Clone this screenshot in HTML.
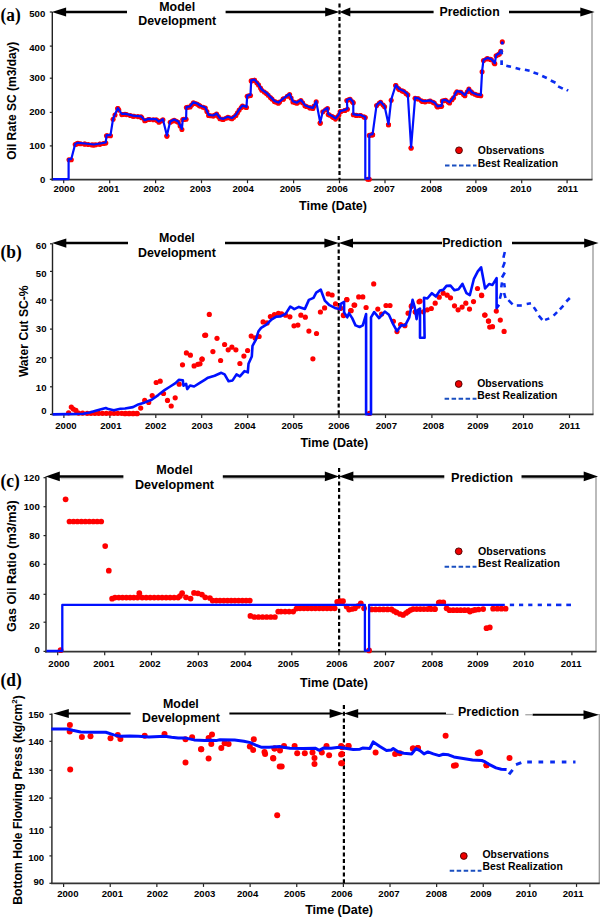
<!DOCTYPE html>
<html><head><meta charset="utf-8"><style>
html,body{margin:0;padding:0;background:#fff;overflow:hidden;}
svg{display:block;}
</style></head><body>
<svg width="602" height="920" viewBox="0 0 602 920">
<rect width="602" height="920" fill="#fff"/>
<text x="0.6" y="21" font-family='"Liberation Serif", serif' font-size="18.5" font-weight="bold" text-anchor="start" fill="#000" textLength="20.2" lengthAdjust="spacingAndGlyphs">(a)</text>
<text transform="translate(16.3,100.7) rotate(-90) scale(1,1)" font-family='"Liberation Sans", sans-serif' font-size="12" font-weight="bold" text-anchor="middle">Oil Rate SC (m3/day)</text>
<line x1="49.8" y1="179.3" x2="52.3" y2="179.3" stroke="#222" stroke-width="1.2" />
<text x="45.3" y="183.0" font-family='"Liberation Sans", sans-serif' font-size="9.6" font-weight="bold" text-anchor="end" fill="#000" >0</text>
<line x1="49.8" y1="145.9" x2="52.3" y2="145.9" stroke="#222" stroke-width="1.2" />
<text x="45.3" y="149.4" font-family='"Liberation Sans", sans-serif' font-size="9.6" font-weight="bold" text-anchor="end" fill="#000" >100</text>
<line x1="49.8" y1="112.4" x2="52.3" y2="112.4" stroke="#222" stroke-width="1.2" />
<text x="45.3" y="115.30000000000001" font-family='"Liberation Sans", sans-serif' font-size="9.6" font-weight="bold" text-anchor="end" fill="#000" >200</text>
<line x1="49.8" y1="78.2" x2="52.3" y2="78.2" stroke="#222" stroke-width="1.2" />
<text x="45.3" y="80.80000000000001" font-family='"Liberation Sans", sans-serif' font-size="9.6" font-weight="bold" text-anchor="end" fill="#000" >300</text>
<line x1="49.8" y1="46.1" x2="52.3" y2="46.1" stroke="#222" stroke-width="1.2" />
<text x="45.3" y="51.199999999999996" font-family='"Liberation Sans", sans-serif' font-size="9.6" font-weight="bold" text-anchor="end" fill="#000" >400</text>
<line x1="49.8" y1="12" x2="52.3" y2="12" stroke="#222" stroke-width="1.2" />
<text x="45.3" y="17.2" font-family='"Liberation Sans", sans-serif' font-size="9.6" font-weight="bold" text-anchor="end" fill="#000" >500</text>
<line x1="63.7" y1="179.6" x2="63.7" y2="183.2" stroke="#222" stroke-width="1.2" />
<text x="64.1" y="191.9" font-family='"Liberation Sans", sans-serif' font-size="9.6" font-weight="bold" text-anchor="middle" fill="#000" >2000</text>
<line x1="109.7" y1="179.6" x2="109.7" y2="183.2" stroke="#222" stroke-width="1.2" />
<text x="108.6" y="191.9" font-family='"Liberation Sans", sans-serif' font-size="9.6" font-weight="bold" text-anchor="middle" fill="#000" >2001</text>
<line x1="155.6" y1="179.6" x2="155.6" y2="183.2" stroke="#222" stroke-width="1.2" />
<text x="153.8" y="191.9" font-family='"Liberation Sans", sans-serif' font-size="9.6" font-weight="bold" text-anchor="middle" fill="#000" >2002</text>
<line x1="201.5" y1="179.6" x2="201.5" y2="183.2" stroke="#222" stroke-width="1.2" />
<text x="200.5" y="191.9" font-family='"Liberation Sans", sans-serif' font-size="9.6" font-weight="bold" text-anchor="middle" fill="#000" >2003</text>
<line x1="247.5" y1="179.6" x2="247.5" y2="183.2" stroke="#222" stroke-width="1.2" />
<text x="243.1" y="191.9" font-family='"Liberation Sans", sans-serif' font-size="9.6" font-weight="bold" text-anchor="middle" fill="#000" >2004</text>
<line x1="293.6" y1="179.6" x2="293.6" y2="183.2" stroke="#222" stroke-width="1.2" />
<text x="290.3" y="191.9" font-family='"Liberation Sans", sans-serif' font-size="9.6" font-weight="bold" text-anchor="middle" fill="#000" >2005</text>
<line x1="339.5" y1="179.6" x2="339.5" y2="183.2" stroke="#222" stroke-width="1.2" />
<text x="337.2" y="191.9" font-family='"Liberation Sans", sans-serif' font-size="9.6" font-weight="bold" text-anchor="middle" fill="#000" >2006</text>
<line x1="385" y1="179.6" x2="385" y2="183.2" stroke="#222" stroke-width="1.2" />
<text x="384.2" y="191.9" font-family='"Liberation Sans", sans-serif' font-size="9.6" font-weight="bold" text-anchor="middle" fill="#000" >2007</text>
<line x1="430.5" y1="179.6" x2="430.5" y2="183.2" stroke="#222" stroke-width="1.2" />
<text x="431.5" y="191.9" font-family='"Liberation Sans", sans-serif' font-size="9.6" font-weight="bold" text-anchor="middle" fill="#000" >2008</text>
<line x1="475.9" y1="179.6" x2="475.9" y2="183.2" stroke="#222" stroke-width="1.2" />
<text x="476.6" y="191.9" font-family='"Liberation Sans", sans-serif' font-size="9.6" font-weight="bold" text-anchor="middle" fill="#000" >2009</text>
<line x1="521.7" y1="179.6" x2="521.7" y2="183.2" stroke="#222" stroke-width="1.2" />
<text x="520.8" y="191.9" font-family='"Liberation Sans", sans-serif' font-size="9.6" font-weight="bold" text-anchor="middle" fill="#000" >2010</text>
<line x1="567.1" y1="179.6" x2="567.1" y2="183.2" stroke="#222" stroke-width="1.2" />
<text x="567.6" y="191.9" font-family='"Liberation Sans", sans-serif' font-size="9.6" font-weight="bold" text-anchor="middle" fill="#000" >2011</text>
<line x1="592" y1="12.5" x2="592" y2="179.6" stroke="#939393" stroke-width="1.25" />
<line x1="52.3" y1="12" x2="52.3" y2="180.4" stroke="#222" stroke-width="1.4" />
<line x1="51.3" y1="179.6" x2="592.5" y2="179.6" stroke="#333" stroke-width="1.8" />
<line x1="339.5" y1="3.5" x2="339.5" y2="179.6" stroke="#000" stroke-width="2.2" stroke-dasharray="4,2.7"/>
<line x1="61.8" y1="12" x2="127" y2="12" stroke="#000" stroke-width="2.5" />
<polygon points="51.8,12 66.1,7.5 66.1,16.5" fill="#000"/>
<line x1="225.6" y1="12" x2="331.5" y2="12" stroke="#000" stroke-width="2.5" />
<polygon points="339.5,12 325.2,7.5 325.2,16.5" fill="#000"/>
<line x1="347.5" y1="12" x2="433.6" y2="12" stroke="#000" stroke-width="2.5" />
<polygon points="339.5,12 350.3,7.5 350.3,16.5" fill="#000"/>
<line x1="509" y1="12" x2="586.6" y2="12" stroke="#000" stroke-width="2.5" />
<polygon points="594.6,12 580.3000000000001,7.5 580.3000000000001,16.5" fill="#000"/>
<text x="177.2" y="10.8" font-family='"Liberation Sans", sans-serif' font-size="12.4" font-weight="bold" text-anchor="middle" fill="#000" >Model</text>
<text x="177.2" y="25.3" font-family='"Liberation Sans", sans-serif' font-size="12.4" font-weight="bold" text-anchor="middle" fill="#000" >Development</text>
<text x="469.6" y="16.4" font-family='"Liberation Sans", sans-serif' font-size="12.3" font-weight="bold" text-anchor="middle" fill="#000" >Prediction</text>
<text x="333" y="209.6" font-family='"Liberation Sans", sans-serif' font-size="12.5" font-weight="bold" text-anchor="middle" fill="#000" >Time (Date)</text>
<circle cx="459" cy="150.3" r="3.4" fill="#e00" stroke="#400" stroke-width="0.9"/>
<text x="477.8" y="154" font-family='"Liberation Sans", sans-serif' font-size="10.4" font-weight="bold" text-anchor="start" fill="#000" >Observations</text>
<text x="477.8" y="166.6" font-family='"Liberation Sans", sans-serif' font-size="10.4" font-weight="bold" text-anchor="start" fill="#000" >Best Realization</text>
<line x1="445" y1="165.4" x2="476.5" y2="165.4" stroke="#1a4fc0" stroke-width="2" stroke-dasharray="4.5,2.5"/>
<circle cx="69.0" cy="159.7" r="2.55" fill="#f00"/>
<circle cx="76.7" cy="143.9" r="2.55" fill="#f00"/>
<circle cx="80.5" cy="143.7" r="2.55" fill="#f00"/>
<circle cx="84.3" cy="144.0" r="2.55" fill="#f00"/>
<circle cx="88.2" cy="144.5" r="2.55" fill="#f00"/>
<circle cx="92.0" cy="144.9" r="2.55" fill="#f00"/>
<circle cx="95.8" cy="144.8" r="2.55" fill="#f00"/>
<circle cx="99.6" cy="144.2" r="2.55" fill="#f00"/>
<circle cx="103.5" cy="143.5" r="2.55" fill="#f00"/>
<circle cx="107.3" cy="135.8" r="2.55" fill="#f00"/>
<circle cx="115.0" cy="115.0" r="2.55" fill="#f00"/>
<circle cx="118.8" cy="110.1" r="2.55" fill="#f00"/>
<circle cx="122.6" cy="114.5" r="2.55" fill="#f00"/>
<circle cx="126.5" cy="114.6" r="2.55" fill="#f00"/>
<circle cx="130.3" cy="115.5" r="2.55" fill="#f00"/>
<circle cx="134.1" cy="116.3" r="2.55" fill="#f00"/>
<circle cx="137.9" cy="116.6" r="2.55" fill="#f00"/>
<circle cx="141.8" cy="117.7" r="2.55" fill="#f00"/>
<circle cx="145.6" cy="120.5" r="2.55" fill="#f00"/>
<circle cx="149.4" cy="119.5" r="2.55" fill="#f00"/>
<circle cx="153.3" cy="119.7" r="2.55" fill="#f00"/>
<circle cx="157.1" cy="120.6" r="2.55" fill="#f00"/>
<circle cx="160.9" cy="121.0" r="2.55" fill="#f00"/>
<circle cx="172.4" cy="121.1" r="2.55" fill="#f00"/>
<circle cx="176.2" cy="121.2" r="2.55" fill="#f00"/>
<circle cx="180.1" cy="125.9" r="2.55" fill="#f00"/>
<circle cx="183.9" cy="119.4" r="2.55" fill="#f00"/>
<circle cx="187.7" cy="107.3" r="2.55" fill="#f00"/>
<circle cx="191.6" cy="105.1" r="2.55" fill="#f00"/>
<circle cx="195.4" cy="103.5" r="2.55" fill="#f00"/>
<circle cx="199.2" cy="105.5" r="2.55" fill="#f00"/>
<circle cx="203.1" cy="107.3" r="2.55" fill="#f00"/>
<circle cx="206.9" cy="111.6" r="2.55" fill="#f00"/>
<circle cx="210.7" cy="115.7" r="2.55" fill="#f00"/>
<circle cx="214.5" cy="115.3" r="2.55" fill="#f00"/>
<circle cx="218.4" cy="116.6" r="2.55" fill="#f00"/>
<circle cx="222.2" cy="119.2" r="2.55" fill="#f00"/>
<circle cx="226.0" cy="118.2" r="2.55" fill="#f00"/>
<circle cx="229.9" cy="118.1" r="2.55" fill="#f00"/>
<circle cx="233.7" cy="117.3" r="2.55" fill="#f00"/>
<circle cx="237.5" cy="112.8" r="2.55" fill="#f00"/>
<circle cx="241.3" cy="107.5" r="2.55" fill="#f00"/>
<circle cx="245.2" cy="107.0" r="2.55" fill="#f00"/>
<circle cx="249.0" cy="95.8" r="2.55" fill="#f00"/>
<circle cx="252.8" cy="80.6" r="2.55" fill="#f00"/>
<circle cx="256.7" cy="82.7" r="2.55" fill="#f00"/>
<circle cx="260.5" cy="88.1" r="2.55" fill="#f00"/>
<circle cx="264.3" cy="92.0" r="2.55" fill="#f00"/>
<circle cx="268.2" cy="95.3" r="2.55" fill="#f00"/>
<circle cx="272.0" cy="99.1" r="2.55" fill="#f00"/>
<circle cx="275.8" cy="102.1" r="2.55" fill="#f00"/>
<circle cx="279.6" cy="102.1" r="2.55" fill="#f00"/>
<circle cx="283.5" cy="98.9" r="2.55" fill="#f00"/>
<circle cx="287.3" cy="96.2" r="2.55" fill="#f00"/>
<circle cx="291.1" cy="98.0" r="2.55" fill="#f00"/>
<circle cx="295.0" cy="102.6" r="2.55" fill="#f00"/>
<circle cx="298.8" cy="101.9" r="2.55" fill="#f00"/>
<circle cx="302.6" cy="102.8" r="2.55" fill="#f00"/>
<circle cx="306.5" cy="106.5" r="2.55" fill="#f00"/>
<circle cx="310.3" cy="107.9" r="2.55" fill="#f00"/>
<circle cx="314.1" cy="106.1" r="2.55" fill="#f00"/>
<circle cx="325.6" cy="109.8" r="2.55" fill="#f00"/>
<circle cx="329.4" cy="115.1" r="2.55" fill="#f00"/>
<circle cx="333.3" cy="117.4" r="2.55" fill="#f00"/>
<circle cx="337.1" cy="117.2" r="2.55" fill="#f00"/>
<circle cx="340.9" cy="111.6" r="2.55" fill="#f00"/>
<circle cx="344.8" cy="110.5" r="2.55" fill="#f00"/>
<circle cx="348.6" cy="99.8" r="2.55" fill="#f00"/>
<circle cx="352.4" cy="101.8" r="2.55" fill="#f00"/>
<circle cx="356.2" cy="115.4" r="2.55" fill="#f00"/>
<circle cx="360.1" cy="115.5" r="2.55" fill="#f00"/>
<circle cx="363.9" cy="116.9" r="2.55" fill="#f00"/>
<circle cx="367.7" cy="179.3" r="2.55" fill="#f00"/>
<circle cx="371.6" cy="134.9" r="2.55" fill="#f00"/>
<circle cx="379.2" cy="103.3" r="2.55" fill="#f00"/>
<circle cx="383.1" cy="105.0" r="2.55" fill="#f00"/>
<circle cx="398.4" cy="88.6" r="2.55" fill="#f00"/>
<circle cx="402.2" cy="90.9" r="2.55" fill="#f00"/>
<circle cx="406.0" cy="93.4" r="2.55" fill="#f00"/>
<circle cx="417.5" cy="98.7" r="2.55" fill="#f00"/>
<circle cx="421.4" cy="100.8" r="2.55" fill="#f00"/>
<circle cx="425.2" cy="101.7" r="2.55" fill="#f00"/>
<circle cx="429.0" cy="101.2" r="2.55" fill="#f00"/>
<circle cx="432.9" cy="102.3" r="2.55" fill="#f00"/>
<circle cx="436.7" cy="105.9" r="2.55" fill="#f00"/>
<circle cx="440.5" cy="106.5" r="2.55" fill="#f00"/>
<circle cx="444.3" cy="100.6" r="2.55" fill="#f00"/>
<circle cx="448.2" cy="102.1" r="2.55" fill="#f00"/>
<circle cx="452.0" cy="99.8" r="2.55" fill="#f00"/>
<circle cx="455.8" cy="93.6" r="2.55" fill="#f00"/>
<circle cx="459.7" cy="92.2" r="2.55" fill="#f00"/>
<circle cx="463.5" cy="94.5" r="2.55" fill="#f00"/>
<circle cx="467.3" cy="91.7" r="2.55" fill="#f00"/>
<circle cx="471.2" cy="91.8" r="2.55" fill="#f00"/>
<circle cx="475.0" cy="94.3" r="2.55" fill="#f00"/>
<circle cx="478.8" cy="95.4" r="2.55" fill="#f00"/>
<circle cx="486.5" cy="59.0" r="2.55" fill="#f00"/>
<circle cx="490.3" cy="59.4" r="2.55" fill="#f00"/>
<circle cx="494.1" cy="63.0" r="2.55" fill="#f00"/>
<circle cx="498.0" cy="54.7" r="2.55" fill="#f00"/>
<circle cx="166.9" cy="136.1" r="2.55" fill="#f00"/>
<circle cx="320.2" cy="123.1" r="2.55" fill="#f00"/>
<circle cx="372.6" cy="134.7" r="2.55" fill="#f00"/>
<circle cx="388.5" cy="124.8" r="2.55" fill="#f00"/>
<circle cx="411.1" cy="148.0" r="2.55" fill="#f00"/>
<circle cx="369.3" cy="179.3" r="2.55" fill="#f00"/>
<circle cx="502.3" cy="41.9" r="2.55" fill="#f00"/>
<circle cx="117.8" cy="108.6" r="2.55" fill="#f00"/>
<circle cx="254.5" cy="80.2" r="2.55" fill="#f00"/>
<circle cx="395.8" cy="85.6" r="2.55" fill="#f00"/>
<circle cx="71.3" cy="159.7" r="2.55" fill="#f00"/>
<circle cx="75.2" cy="144.5" r="2.55" fill="#f00"/>
<circle cx="77.9" cy="143.4" r="2.55" fill="#f00"/>
<circle cx="85.0" cy="144.1" r="2.55" fill="#f00"/>
<circle cx="93.9" cy="145.1" r="2.55" fill="#f00"/>
<circle cx="100.0" cy="144.1" r="2.55" fill="#f00"/>
<circle cx="105.8" cy="143.1" r="2.55" fill="#f00"/>
<circle cx="106.5" cy="135.8" r="2.55" fill="#f00"/>
<circle cx="110.5" cy="135.8" r="2.55" fill="#f00"/>
<circle cx="113.1" cy="119.2" r="2.55" fill="#f00"/>
<circle cx="117.8" cy="108.6" r="2.55" fill="#f00"/>
<circle cx="121.8" cy="114.6" r="2.55" fill="#f00"/>
<circle cx="125.0" cy="114.2" r="2.55" fill="#f00"/>
<circle cx="133.0" cy="116.2" r="2.55" fill="#f00"/>
<circle cx="141.0" cy="116.9" r="2.55" fill="#f00"/>
<circle cx="144.7" cy="120.8" r="2.55" fill="#f00"/>
<circle cx="148.3" cy="119.5" r="2.55" fill="#f00"/>
<circle cx="156.2" cy="119.8" r="2.55" fill="#f00"/>
<circle cx="158.9" cy="122.2" r="2.55" fill="#f00"/>
<circle cx="162.9" cy="119.8" r="2.55" fill="#f00"/>
<circle cx="166.9" cy="136.1" r="2.55" fill="#f00"/>
<circle cx="170.2" cy="122.2" r="2.55" fill="#f00"/>
<circle cx="174.2" cy="120.2" r="2.55" fill="#f00"/>
<circle cx="178.2" cy="122.2" r="2.55" fill="#f00"/>
<circle cx="181.9" cy="129.5" r="2.55" fill="#f00"/>
<circle cx="182.8" cy="119.5" r="2.55" fill="#f00"/>
<circle cx="186.1" cy="119.3" r="2.55" fill="#f00"/>
<circle cx="186.4" cy="107.6" r="2.55" fill="#f00"/>
<circle cx="190.1" cy="106.9" r="2.55" fill="#f00"/>
<circle cx="193.4" cy="102.9" r="2.55" fill="#f00"/>
<circle cx="197.4" cy="104.2" r="2.55" fill="#f00"/>
<circle cx="200.0" cy="106.1" r="2.55" fill="#f00"/>
<circle cx="205.3" cy="108.1" r="2.55" fill="#f00"/>
<circle cx="208.6" cy="115.4" r="2.55" fill="#f00"/>
<circle cx="213.3" cy="116.1" r="2.55" fill="#f00"/>
<circle cx="216.6" cy="114.1" r="2.55" fill="#f00"/>
<circle cx="219.9" cy="118.8" r="2.55" fill="#f00"/>
<circle cx="223.3" cy="119.4" r="2.55" fill="#f00"/>
<circle cx="227.9" cy="117.4" r="2.55" fill="#f00"/>
<circle cx="231.9" cy="118.8" r="2.55" fill="#f00"/>
<circle cx="235.9" cy="115.4" r="2.55" fill="#f00"/>
<circle cx="239.2" cy="110.1" r="2.55" fill="#f00"/>
<circle cx="242.5" cy="106.1" r="2.55" fill="#f00"/>
<circle cx="246.5" cy="107.5" r="2.55" fill="#f00"/>
<circle cx="247.2" cy="96.2" r="2.55" fill="#f00"/>
<circle cx="250.5" cy="95.5" r="2.55" fill="#f00"/>
<circle cx="251.2" cy="80.9" r="2.55" fill="#f00"/>
<circle cx="254.5" cy="80.2" r="2.55" fill="#f00"/>
<circle cx="258.5" cy="84.9" r="2.55" fill="#f00"/>
<circle cx="261.8" cy="90.2" r="2.55" fill="#f00"/>
<circle cx="266.4" cy="93.5" r="2.55" fill="#f00"/>
<circle cx="270.4" cy="97.5" r="2.55" fill="#f00"/>
<circle cx="274.4" cy="101.5" r="2.55" fill="#f00"/>
<circle cx="278.3" cy="103.2" r="2.55" fill="#f00"/>
<circle cx="283.0" cy="99.2" r="2.55" fill="#f00"/>
<circle cx="289.6" cy="94.6" r="2.55" fill="#f00"/>
<circle cx="292.9" cy="101.9" r="2.55" fill="#f00"/>
<circle cx="296.9" cy="103.2" r="2.55" fill="#f00"/>
<circle cx="300.9" cy="100.5" r="2.55" fill="#f00"/>
<circle cx="304.9" cy="105.8" r="2.55" fill="#f00"/>
<circle cx="309.6" cy="107.8" r="2.55" fill="#f00"/>
<circle cx="312.9" cy="108.5" r="2.55" fill="#f00"/>
<circle cx="316.2" cy="101.9" r="2.55" fill="#f00"/>
<circle cx="320.2" cy="123.1" r="2.55" fill="#f00"/>
<circle cx="322.8" cy="111.8" r="2.55" fill="#f00"/>
<circle cx="327.5" cy="108.5" r="2.55" fill="#f00"/>
<circle cx="328.2" cy="114.5" r="2.55" fill="#f00"/>
<circle cx="332.1" cy="116.5" r="2.55" fill="#f00"/>
<circle cx="335.5" cy="119.1" r="2.55" fill="#f00"/>
<circle cx="338.8" cy="115.2" r="2.55" fill="#f00"/>
<circle cx="340.1" cy="111.8" r="2.55" fill="#f00"/>
<circle cx="344.8" cy="110.5" r="2.55" fill="#f00"/>
<circle cx="347.4" cy="109.2" r="2.55" fill="#f00"/>
<circle cx="346.8" cy="100.5" r="2.55" fill="#f00"/>
<circle cx="350.1" cy="99.2" r="2.55" fill="#f00"/>
<circle cx="353.3" cy="102.8" r="2.55" fill="#f00"/>
<circle cx="353.3" cy="114.8" r="2.55" fill="#f00"/>
<circle cx="356.6" cy="115.5" r="2.55" fill="#f00"/>
<circle cx="360.6" cy="115.5" r="2.55" fill="#f00"/>
<circle cx="365.3" cy="117.5" r="2.55" fill="#f00"/>
<circle cx="369.3" cy="135.4" r="2.55" fill="#f00"/>
<circle cx="372.6" cy="134.7" r="2.55" fill="#f00"/>
<circle cx="376.6" cy="105.5" r="2.55" fill="#f00"/>
<circle cx="380.6" cy="102.2" r="2.55" fill="#f00"/>
<circle cx="384.6" cy="106.8" r="2.55" fill="#f00"/>
<circle cx="388.5" cy="124.8" r="2.55" fill="#f00"/>
<circle cx="391.2" cy="100.2" r="2.55" fill="#f00"/>
<circle cx="395.8" cy="85.6" r="2.55" fill="#f00"/>
<circle cx="399.2" cy="89.6" r="2.55" fill="#f00"/>
<circle cx="403.8" cy="91.6" r="2.55" fill="#f00"/>
<circle cx="407.8" cy="94.9" r="2.55" fill="#f00"/>
<circle cx="411.1" cy="148.0" r="2.55" fill="#f00"/>
<circle cx="415.1" cy="98.2" r="2.55" fill="#f00"/>
<circle cx="418.4" cy="98.9" r="2.55" fill="#f00"/>
<circle cx="422.4" cy="101.5" r="2.55" fill="#f00"/>
<circle cx="425.0" cy="101.7" r="2.55" fill="#f00"/>
<circle cx="430.3" cy="101.0" r="2.55" fill="#f00"/>
<circle cx="434.3" cy="103.0" r="2.55" fill="#f00"/>
<circle cx="437.6" cy="107.0" r="2.55" fill="#f00"/>
<circle cx="441.6" cy="106.3" r="2.55" fill="#f00"/>
<circle cx="442.3" cy="101.0" r="2.55" fill="#f00"/>
<circle cx="445.6" cy="100.4" r="2.55" fill="#f00"/>
<circle cx="449.6" cy="103.0" r="2.55" fill="#f00"/>
<circle cx="453.6" cy="97.7" r="2.55" fill="#f00"/>
<circle cx="456.9" cy="91.7" r="2.55" fill="#f00"/>
<circle cx="460.9" cy="92.4" r="2.55" fill="#f00"/>
<circle cx="464.9" cy="95.7" r="2.55" fill="#f00"/>
<circle cx="468.9" cy="89.1" r="2.55" fill="#f00"/>
<circle cx="472.2" cy="93.1" r="2.55" fill="#f00"/>
<circle cx="476.8" cy="95.1" r="2.55" fill="#f00"/>
<circle cx="480.8" cy="95.7" r="2.55" fill="#f00"/>
<circle cx="482.1" cy="71.8" r="2.55" fill="#f00"/>
<circle cx="483.5" cy="60.5" r="2.55" fill="#f00"/>
<circle cx="487.5" cy="58.5" r="2.55" fill="#f00"/>
<circle cx="491.4" cy="59.8" r="2.55" fill="#f00"/>
<circle cx="494.8" cy="63.8" r="2.55" fill="#f00"/>
<circle cx="496.1" cy="55.8" r="2.55" fill="#f00"/>
<circle cx="499.4" cy="53.9" r="2.55" fill="#f00"/>
<circle cx="500.7" cy="51.2" r="2.55" fill="#f00"/>
<polyline points="52.7,179.1 68.6,179.1 68.6,159.1 71.3,159.1 75.2,143.9 77.9,142.8 85.0,143.5 93.9,144.5 100.0,143.5 105.8,142.5 106.5,135.2 110.5,135.2 113.1,118.6 117.8,108.0 121.8,114.0 125.0,113.6 133.0,115.6 141.0,116.3 144.7,120.2 148.3,118.9 156.2,119.2 158.9,121.6 162.9,119.2 166.9,135.5 170.2,121.6 174.2,119.6 178.2,121.6 181.9,128.9 182.8,118.9 186.1,118.7 186.4,107.0 190.1,106.3 193.4,102.3 197.4,103.6 200.0,105.5 205.3,107.5 208.6,114.8 213.3,115.5 216.6,113.5 219.9,118.2 223.3,118.8 227.9,116.8 231.9,118.2 235.9,114.8 239.2,109.5 242.5,105.5 246.5,106.9 247.2,95.6 250.5,94.9 251.2,80.3 254.5,79.6 258.5,84.3 261.8,89.6 266.4,92.9 270.4,96.9 274.4,100.9 278.3,102.6 283.0,98.6 289.6,94.0 292.9,101.3 296.9,102.6 300.9,99.9 304.9,105.2 309.6,107.2 312.9,107.9 316.2,101.3 320.2,122.5 322.8,111.2 327.5,107.9 328.2,113.9 332.1,115.9 335.5,118.5 338.8,114.6 340.1,111.2 344.8,109.9 347.4,108.6 346.8,99.9 350.1,98.6 353.3,102.2 353.3,114.2 356.6,114.9 360.6,114.9 365.3,116.9 365.3,178.7 369.3,178.7 369.3,134.8 372.6,134.1 376.6,104.9 380.6,101.6 384.6,106.2 388.5,124.2 391.2,99.6 395.8,85.0 399.2,89.0 403.8,91.0 407.8,94.3 411.1,147.4 415.1,97.6 418.4,98.3 422.4,100.9 425.0,101.1 430.3,100.4 434.3,102.4 437.6,106.4 441.6,105.7 442.3,100.4 445.6,99.8 449.6,102.4 453.6,97.1 456.9,91.1 460.9,91.8 464.9,95.1 468.9,88.5 472.2,92.5 476.8,94.5 480.8,95.1 482.1,71.2 483.5,59.9 487.5,57.9 491.4,59.2 494.8,63.2 496.1,55.2 499.4,53.3 500.7,50.6" fill="none" stroke="#0010ff" stroke-width="2.2" stroke-linejoin="round" />
<line x1="501.3" y1="49.5" x2="501.8" y2="54.3" stroke="#0a2cf0" stroke-width="2.7"/>
<line x1="501.6" y1="60.3" x2="501.6" y2="65" stroke="#0a2cf0" stroke-width="2.7"/>
<line x1="506.3" y1="65.8" x2="511" y2="66.8" stroke="#0a2cf0" stroke-width="2.7"/>
<line x1="515.6" y1="68" x2="520.2" y2="69.3" stroke="#0a2cf0" stroke-width="2.7"/>
<line x1="524.9" y1="69.8" x2="529.6" y2="70.8" stroke="#0a2cf0" stroke-width="2.7"/>
<line x1="533.5" y1="72.5" x2="538.2" y2="74" stroke="#0a2cf0" stroke-width="2.7"/>
<line x1="542.2" y1="76" x2="546.8" y2="77.9" stroke="#0a2cf0" stroke-width="2.7"/>
<line x1="550.8" y1="80.5" x2="555.5" y2="82.7" stroke="#0a2cf0" stroke-width="2.7"/>
<line x1="558.1" y1="86.4" x2="562.8" y2="88.6" stroke="#0a2cf0" stroke-width="2.7"/>
<line x1="566.8" y1="89.8" x2="568.1" y2="90.6" stroke="#0a2cf0" stroke-width="2.7"/>
<circle cx="502.3" cy="42.9" r="1.6" fill="#0010ff"/>
<text x="0.6" y="258" font-family='"Liberation Serif", serif' font-size="18.5" font-weight="bold" text-anchor="start" fill="#000" textLength="21.2" lengthAdjust="spacingAndGlyphs">(b)</text>
<text transform="translate(27.6,331.3) rotate(-90) scale(1,1)" font-family='"Liberation Sans", sans-serif' font-size="12.1" font-weight="bold" text-anchor="middle">Water Cut SC-%</text>
<line x1="50.0" y1="414.4" x2="52.5" y2="414.4" stroke="#222" stroke-width="1.2" />
<text x="46.5" y="414.09999999999997" font-family='"Liberation Sans", sans-serif' font-size="9.6" font-weight="bold" text-anchor="end" fill="#000" >0</text>
<line x1="50.0" y1="386.8" x2="52.5" y2="386.8" stroke="#222" stroke-width="1.2" />
<text x="46.5" y="391.4" font-family='"Liberation Sans", sans-serif' font-size="9.6" font-weight="bold" text-anchor="end" fill="#000" >10</text>
<line x1="50.0" y1="357.8" x2="52.5" y2="357.8" stroke="#222" stroke-width="1.2" />
<text x="46.5" y="363.4" font-family='"Liberation Sans", sans-serif' font-size="9.6" font-weight="bold" text-anchor="end" fill="#000" >20</text>
<line x1="50.0" y1="329.1" x2="52.5" y2="329.1" stroke="#222" stroke-width="1.2" />
<text x="46.5" y="331.59999999999997" font-family='"Liberation Sans", sans-serif' font-size="9.6" font-weight="bold" text-anchor="end" fill="#000" >30</text>
<line x1="50.0" y1="300.1" x2="52.5" y2="300.1" stroke="#222" stroke-width="1.2" />
<text x="46.5" y="303.9" font-family='"Liberation Sans", sans-serif' font-size="9.6" font-weight="bold" text-anchor="end" fill="#000" >40</text>
<line x1="50.0" y1="271.4" x2="52.5" y2="271.4" stroke="#222" stroke-width="1.2" />
<text x="46.5" y="276.5" font-family='"Liberation Sans", sans-serif' font-size="9.6" font-weight="bold" text-anchor="end" fill="#000" >50</text>
<line x1="50.0" y1="243.8" x2="52.5" y2="243.8" stroke="#222" stroke-width="1.2" />
<text x="46.5" y="248.70000000000002" font-family='"Liberation Sans", sans-serif' font-size="9.6" font-weight="bold" text-anchor="end" fill="#000" >60</text>
<line x1="63.9" y1="414.4" x2="63.9" y2="418.0" stroke="#222" stroke-width="1.2" />
<text x="65.9" y="429.1" font-family='"Liberation Sans", sans-serif' font-size="9.6" font-weight="bold" text-anchor="middle" fill="#000" >2000</text>
<line x1="109.9" y1="414.4" x2="109.9" y2="418.0" stroke="#222" stroke-width="1.2" />
<text x="110.8" y="429.1" font-family='"Liberation Sans", sans-serif' font-size="9.6" font-weight="bold" text-anchor="middle" fill="#000" >2001</text>
<line x1="155.8" y1="414.4" x2="155.8" y2="418.0" stroke="#222" stroke-width="1.2" />
<text x="155.6" y="429.1" font-family='"Liberation Sans", sans-serif' font-size="9.6" font-weight="bold" text-anchor="middle" fill="#000" >2002</text>
<line x1="201.7" y1="414.4" x2="201.7" y2="418.0" stroke="#222" stroke-width="1.2" />
<text x="202.2" y="429.1" font-family='"Liberation Sans", sans-serif' font-size="9.6" font-weight="bold" text-anchor="middle" fill="#000" >2003</text>
<line x1="247.7" y1="414.4" x2="247.7" y2="418.0" stroke="#222" stroke-width="1.2" />
<text x="245" y="429.1" font-family='"Liberation Sans", sans-serif' font-size="9.6" font-weight="bold" text-anchor="middle" fill="#000" >2004</text>
<line x1="293.8" y1="414.4" x2="293.8" y2="418.0" stroke="#222" stroke-width="1.2" />
<text x="292.2" y="429.1" font-family='"Liberation Sans", sans-serif' font-size="9.6" font-weight="bold" text-anchor="middle" fill="#000" >2005</text>
<line x1="339" y1="414.4" x2="339" y2="418.0" stroke="#222" stroke-width="1.2" />
<text x="339" y="429.1" font-family='"Liberation Sans", sans-serif' font-size="9.6" font-weight="bold" text-anchor="middle" fill="#000" >2006</text>
<line x1="385.5" y1="414.4" x2="385.5" y2="418.0" stroke="#222" stroke-width="1.2" />
<text x="386.3" y="429.1" font-family='"Liberation Sans", sans-serif' font-size="9.6" font-weight="bold" text-anchor="middle" fill="#000" >2007</text>
<line x1="431.9" y1="414.4" x2="431.9" y2="418.0" stroke="#222" stroke-width="1.2" />
<text x="433.3" y="429.1" font-family='"Liberation Sans", sans-serif' font-size="9.6" font-weight="bold" text-anchor="middle" fill="#000" >2008</text>
<line x1="477.2" y1="414.4" x2="477.2" y2="418.0" stroke="#222" stroke-width="1.2" />
<text x="478" y="429.1" font-family='"Liberation Sans", sans-serif' font-size="9.6" font-weight="bold" text-anchor="middle" fill="#000" >2009</text>
<line x1="523.5" y1="414.4" x2="523.5" y2="418.0" stroke="#222" stroke-width="1.2" />
<text x="522.6" y="429.1" font-family='"Liberation Sans", sans-serif' font-size="9.6" font-weight="bold" text-anchor="middle" fill="#000" >2010</text>
<line x1="569.5" y1="414.4" x2="569.5" y2="418.0" stroke="#222" stroke-width="1.2" />
<text x="569.6" y="429.1" font-family='"Liberation Sans", sans-serif' font-size="9.6" font-weight="bold" text-anchor="middle" fill="#000" >2011</text>
<line x1="593" y1="244.0" x2="593" y2="414.4" stroke="#939393" stroke-width="1.25" />
<line x1="52.5" y1="243.5" x2="52.5" y2="415.2" stroke="#222" stroke-width="1.4" />
<line x1="51.5" y1="414.4" x2="593.5" y2="414.4" stroke="#333" stroke-width="1.8" />
<line x1="338.7" y1="236" x2="338.7" y2="414.4" stroke="#000" stroke-width="2.2" stroke-dasharray="4,2.7"/>
<line x1="62.0" y1="243.1" x2="128" y2="243.1" stroke="#000" stroke-width="2.5" />
<polygon points="52.0,243.1 66.3,238.4 66.3,247.79999999999998" fill="#000"/>
<line x1="225" y1="243.1" x2="330.7" y2="243.1" stroke="#000" stroke-width="2.5" />
<polygon points="338.7,243.1 324.4,238.4 324.4,247.79999999999998" fill="#000"/>
<line x1="346.7" y1="243.1" x2="442" y2="243.1" stroke="#000" stroke-width="2.5" />
<polygon points="338.7,243.1 353.0,238.4 353.0,247.79999999999998" fill="#000"/>
<line x1="512" y1="243.1" x2="590.5" y2="243.1" stroke="#000" stroke-width="2.5" />
<polygon points="598.5,243.1 584.2,238.4 584.2,247.79999999999998" fill="#000"/>
<text x="176.9" y="242.3" font-family='"Liberation Sans", sans-serif' font-size="12.4" font-weight="bold" text-anchor="middle" fill="#000" >Model</text>
<text x="176.9" y="257.2" font-family='"Liberation Sans", sans-serif' font-size="12.4" font-weight="bold" text-anchor="middle" fill="#000" >Development</text>
<text x="472.2" y="246.6" font-family='"Liberation Sans", sans-serif' font-size="12.3" font-weight="bold" text-anchor="middle" fill="#000" >Prediction</text>
<text x="334.3" y="446.5" font-family='"Liberation Sans", sans-serif' font-size="12.5" font-weight="bold" text-anchor="middle" fill="#000" >Time (Date)</text>
<circle cx="458.7" cy="384" r="3.4" fill="#e00" stroke="#400" stroke-width="0.9"/>
<text x="477.2" y="387.1" font-family='"Liberation Sans", sans-serif' font-size="10.4" font-weight="bold" text-anchor="start" fill="#000" >Observations</text>
<text x="477.2" y="399.2" font-family='"Liberation Sans", sans-serif' font-size="10.4" font-weight="bold" text-anchor="start" fill="#000" >Best Realization</text>
<line x1="444.6" y1="398.7" x2="476.5" y2="398.7" stroke="#1a4fc0" stroke-width="2" stroke-dasharray="4.5,2.5"/>
<circle cx="68.6" cy="412.8" r="2.6" fill="#f00"/>
<circle cx="71.3" cy="407.1" r="2.6" fill="#f00"/>
<circle cx="73.3" cy="409.1" r="2.6" fill="#f00"/>
<circle cx="75.9" cy="410.4" r="2.6" fill="#f00"/>
<circle cx="78.6" cy="413.1" r="2.6" fill="#f00"/>
<circle cx="82.6" cy="413.1" r="2.6" fill="#f00"/>
<circle cx="87.2" cy="413.3" r="2.6" fill="#f00"/>
<circle cx="91.0" cy="413.3" r="2.6" fill="#f00"/>
<circle cx="94.9" cy="413.3" r="2.6" fill="#f00"/>
<circle cx="98.7" cy="413.3" r="2.6" fill="#f00"/>
<circle cx="102.5" cy="413.3" r="2.6" fill="#f00"/>
<circle cx="106.3" cy="413.3" r="2.6" fill="#f00"/>
<circle cx="110.2" cy="413.3" r="2.6" fill="#f00"/>
<circle cx="114.0" cy="413.3" r="2.6" fill="#f00"/>
<circle cx="117.8" cy="413.3" r="2.6" fill="#f00"/>
<circle cx="121.7" cy="413.3" r="2.6" fill="#f00"/>
<circle cx="125.5" cy="413.3" r="2.6" fill="#f00"/>
<circle cx="129.3" cy="413.3" r="2.6" fill="#f00"/>
<circle cx="133.2" cy="413.3" r="2.6" fill="#f00"/>
<circle cx="137.0" cy="413.3" r="2.6" fill="#f00"/>
<circle cx="140.7" cy="408.1" r="2.6" fill="#f00"/>
<circle cx="144.7" cy="400.4" r="2.6" fill="#f00"/>
<circle cx="148.7" cy="402.4" r="2.6" fill="#f00"/>
<circle cx="152.2" cy="395.5" r="2.6" fill="#f00"/>
<circle cx="156.2" cy="382.5" r="2.6" fill="#f00"/>
<circle cx="160.2" cy="381.2" r="2.6" fill="#f00"/>
<circle cx="163.5" cy="393.5" r="2.6" fill="#f00"/>
<circle cx="167.5" cy="400.4" r="2.6" fill="#f00"/>
<circle cx="171.2" cy="406.0" r="2.6" fill="#f00"/>
<circle cx="175.2" cy="397.8" r="2.6" fill="#f00"/>
<circle cx="179.2" cy="384.2" r="2.6" fill="#f00"/>
<circle cx="182.5" cy="364.8" r="2.6" fill="#f00"/>
<circle cx="186.4" cy="352.9" r="2.6" fill="#f00"/>
<circle cx="190.4" cy="355.2" r="2.6" fill="#f00"/>
<circle cx="194.1" cy="365.9" r="2.6" fill="#f00"/>
<circle cx="197.8" cy="364.3" r="2.6" fill="#f00"/>
<circle cx="202.1" cy="359.2" r="2.6" fill="#f00"/>
<circle cx="204.7" cy="335.3" r="2.6" fill="#f00"/>
<circle cx="209.3" cy="314.4" r="2.6" fill="#f00"/>
<circle cx="205.6" cy="335.2" r="2.6" fill="#f00"/>
<circle cx="217.0" cy="338.3" r="2.6" fill="#f00"/>
<circle cx="224.6" cy="344.5" r="2.6" fill="#f00"/>
<circle cx="228.2" cy="349.8" r="2.6" fill="#f00"/>
<circle cx="231.9" cy="347.2" r="2.6" fill="#f00"/>
<circle cx="235.9" cy="349.8" r="2.6" fill="#f00"/>
<circle cx="212.9" cy="351.6" r="2.6" fill="#f00"/>
<circle cx="202.0" cy="359.1" r="2.6" fill="#f00"/>
<circle cx="200.0" cy="363.8" r="2.6" fill="#f00"/>
<circle cx="220.6" cy="360.5" r="2.6" fill="#f00"/>
<circle cx="239.9" cy="363.5" r="2.6" fill="#f00"/>
<circle cx="243.9" cy="356.1" r="2.6" fill="#f00"/>
<circle cx="247.6" cy="350.5" r="2.6" fill="#f00"/>
<circle cx="251.2" cy="336.1" r="2.6" fill="#f00"/>
<circle cx="255.1" cy="337.9" r="2.6" fill="#f00"/>
<circle cx="259.1" cy="336.5" r="2.6" fill="#f00"/>
<circle cx="263.1" cy="321.9" r="2.6" fill="#f00"/>
<circle cx="267.1" cy="322.9" r="2.6" fill="#f00"/>
<circle cx="270.4" cy="316.6" r="2.6" fill="#f00"/>
<circle cx="274.4" cy="314.6" r="2.6" fill="#f00"/>
<circle cx="278.4" cy="313.3" r="2.6" fill="#f00"/>
<circle cx="281.6" cy="313.9" r="2.6" fill="#f00"/>
<circle cx="285.6" cy="315.2" r="2.6" fill="#f00"/>
<circle cx="289.9" cy="316.8" r="2.6" fill="#f00"/>
<circle cx="294.0" cy="325.8" r="2.6" fill="#f00"/>
<circle cx="297.9" cy="325.1" r="2.6" fill="#f00"/>
<circle cx="300.9" cy="315.2" r="2.6" fill="#f00"/>
<circle cx="305.3" cy="317.2" r="2.6" fill="#f00"/>
<circle cx="308.9" cy="331.1" r="2.6" fill="#f00"/>
<circle cx="316.5" cy="333.5" r="2.6" fill="#f00"/>
<circle cx="320.4" cy="312.0" r="2.6" fill="#f00"/>
<circle cx="324.6" cy="307.9" r="2.6" fill="#f00"/>
<circle cx="328.2" cy="293.9" r="2.6" fill="#f00"/>
<circle cx="332.1" cy="295.0" r="2.6" fill="#f00"/>
<circle cx="335.5" cy="303.9" r="2.6" fill="#f00"/>
<circle cx="340.1" cy="307.9" r="2.6" fill="#f00"/>
<circle cx="346.8" cy="299.5" r="2.6" fill="#f00"/>
<circle cx="343.4" cy="315.2" r="2.6" fill="#f00"/>
<circle cx="350.7" cy="310.5" r="2.6" fill="#f00"/>
<circle cx="354.1" cy="305.2" r="2.6" fill="#f00"/>
<circle cx="312.9" cy="358.8" r="2.6" fill="#f00"/>
<circle cx="340.8" cy="308.3" r="2.6" fill="#f00"/>
<circle cx="343.6" cy="315.6" r="2.6" fill="#f00"/>
<circle cx="346.8" cy="299.7" r="2.6" fill="#f00"/>
<circle cx="351.1" cy="310.7" r="2.6" fill="#f00"/>
<circle cx="354.7" cy="305.0" r="2.6" fill="#f00"/>
<circle cx="358.7" cy="296.9" r="2.6" fill="#f00"/>
<circle cx="362.8" cy="296.9" r="2.6" fill="#f00"/>
<circle cx="366.1" cy="307.5" r="2.6" fill="#f00"/>
<circle cx="373.7" cy="283.9" r="2.6" fill="#f00"/>
<circle cx="377.8" cy="309.1" r="2.6" fill="#f00"/>
<circle cx="381.6" cy="314.0" r="2.6" fill="#f00"/>
<circle cx="386.0" cy="305.5" r="2.6" fill="#f00"/>
<circle cx="390.0" cy="305.5" r="2.6" fill="#f00"/>
<circle cx="393.4" cy="321.3" r="2.6" fill="#f00"/>
<circle cx="397.0" cy="331.6" r="2.6" fill="#f00"/>
<circle cx="400.6" cy="324.6" r="2.6" fill="#f00"/>
<circle cx="404.9" cy="325.7" r="2.6" fill="#f00"/>
<circle cx="408.1" cy="313.2" r="2.6" fill="#f00"/>
<circle cx="411.4" cy="305.8" r="2.6" fill="#f00"/>
<circle cx="415.3" cy="312.0" r="2.6" fill="#f00"/>
<circle cx="419.0" cy="301.8" r="2.6" fill="#f00"/>
<circle cx="369.3" cy="413.4" r="2.6" fill="#f00"/>
<circle cx="411.3" cy="306.5" r="2.6" fill="#f00"/>
<circle cx="415.3" cy="311.8" r="2.6" fill="#f00"/>
<circle cx="420.0" cy="301.2" r="2.6" fill="#f00"/>
<circle cx="423.3" cy="311.8" r="2.6" fill="#f00"/>
<circle cx="427.3" cy="309.8" r="2.6" fill="#f00"/>
<circle cx="431.3" cy="308.5" r="2.6" fill="#f00"/>
<circle cx="435.2" cy="303.2" r="2.6" fill="#f00"/>
<circle cx="439.2" cy="297.2" r="2.6" fill="#f00"/>
<circle cx="443.2" cy="293.2" r="2.6" fill="#f00"/>
<circle cx="447.2" cy="295.2" r="2.6" fill="#f00"/>
<circle cx="450.5" cy="297.8" r="2.6" fill="#f00"/>
<circle cx="454.5" cy="305.8" r="2.6" fill="#f00"/>
<circle cx="458.1" cy="309.8" r="2.6" fill="#f00"/>
<circle cx="462.1" cy="307.1" r="2.6" fill="#f00"/>
<circle cx="465.8" cy="303.2" r="2.6" fill="#f00"/>
<circle cx="469.5" cy="309.1" r="2.6" fill="#f00"/>
<circle cx="473.5" cy="301.6" r="2.6" fill="#f00"/>
<circle cx="477.5" cy="288.5" r="2.6" fill="#f00"/>
<circle cx="481.5" cy="295.2" r="2.6" fill="#f00"/>
<circle cx="484.7" cy="315.1" r="2.6" fill="#f00"/>
<circle cx="488.4" cy="321.1" r="2.6" fill="#f00"/>
<circle cx="489.7" cy="327.1" r="2.6" fill="#f00"/>
<circle cx="481.7" cy="295.6" r="2.6" fill="#f00"/>
<circle cx="485.0" cy="315.1" r="2.6" fill="#f00"/>
<circle cx="488.6" cy="321.1" r="2.6" fill="#f00"/>
<circle cx="492.5" cy="326.7" r="2.6" fill="#f00"/>
<circle cx="496.3" cy="311.1" r="2.6" fill="#f00"/>
<circle cx="500.3" cy="320.1" r="2.6" fill="#f00"/>
<circle cx="504.1" cy="331.4" r="2.6" fill="#f00"/>
<circle cx="125.0" cy="413.7" r="2.6" fill="#f00"/>
<circle cx="129.0" cy="413.7" r="2.6" fill="#f00"/>
<circle cx="133.0" cy="413.7" r="2.6" fill="#f00"/>
<circle cx="137.0" cy="413.7" r="2.6" fill="#f00"/>
<polyline points="52.7,414.4 83.2,413.8 89.9,412.4 96.5,410.4 105.8,408.0 108.5,409.1 113.8,410.2 120.4,408.8 125.0,408.5 133.0,407.1 138.3,404.4 144.9,402.4 151.6,399.8 158.2,395.1 164.9,389.8 170.2,386.5 175.5,383.2 178.8,379.8 182.8,380.2 183.5,385.8 186.1,383.8 187.2,389.1 190.1,385.5 194.1,386.5 199.4,383.2 204.7,379.8 208.0,377.7 214.6,375.7 221.3,372.8 224.6,374.4 228.6,381.3 232.6,380.4 236.5,374.4 239.9,376.4 244.5,371.1 247.8,372.4 248.5,363.8 251.8,356.5 252.5,345.8 255.8,339.9 258.5,331.2 261.1,327.9 266.4,324.6 271.8,319.3 276.4,316.6 280.3,316.5 285.6,313.9 290.3,306.5 294.3,309.2 298.9,306.9 304.9,308.9 308.9,299.9 313.5,297.9 316.2,292.6 320.8,289.7 324.8,300.6 329.5,305.2 334.8,307.9 340.1,309.2 340.8,303.9 344.1,301.9 344.1,312.4 347.3,317.3 349.0,313.2 352.2,318.1 355.5,325.4 359.6,327.0 362.8,325.4 366.1,314.0 366.1,414.2 371.0,414.2 371.0,317.3 374.2,312.0 379.1,318.1 384.8,311.6 388.9,314.8 393.0,323.8 397.0,331.1 401.1,325.4 405.2,325.4 409.3,317.3 412.6,299.8 414.7,307.1 416.6,319.1 418.0,309.8 420.0,308.5 420.0,337.7 424.6,337.7 424.0,297.8 427.3,298.5 431.9,293.2 435.9,296.5 439.9,290.5 443.2,289.9 446.5,285.9 450.5,285.6 454.5,290.3 458.5,289.2 462.5,283.9 466.5,293.2 469.8,295.2 473.8,279.2 477.8,271.3 481.1,267.3 485.1,288.5 489.1,284.0 492.5,284.9 496.6,278.2 496.6,308.1 499.1,304.8" fill="none" stroke="#0010ff" stroke-width="2.6" stroke-linejoin="round" />
<line x1="499.9" y1="298.7" x2="501.3" y2="293" stroke="#0a2cf0" stroke-width="2.6"/>
<line x1="501.3" y1="287.4" x2="502" y2="282.4" stroke="#0a2cf0" stroke-width="2.6"/>
<line x1="502" y1="277.5" x2="504.8" y2="272.5" stroke="#0a2cf0" stroke-width="2.6"/>
<line x1="502.7" y1="267.6" x2="504.8" y2="262" stroke="#0a2cf0" stroke-width="2.6"/>
<line x1="503.4" y1="257.7" x2="504.8" y2="252" stroke="#0a2cf0" stroke-width="2.6"/>
<line x1="504.1" y1="283.1" x2="504.8" y2="287.4" stroke="#0a2cf0" stroke-width="2.6"/>
<line x1="504.1" y1="293" x2="505.5" y2="298" stroke="#0a2cf0" stroke-width="2.6"/>
<line x1="508.4" y1="300.1" x2="512.6" y2="304.3" stroke="#0a2cf0" stroke-width="2.6"/>
<line x1="516.8" y1="305.5" x2="521.8" y2="305.5" stroke="#0a2cf0" stroke-width="2.6"/>
<line x1="526.7" y1="304" x2="531" y2="303.2" stroke="#0a2cf0" stroke-width="2.6"/>
<line x1="533.8" y1="307.1" x2="536.6" y2="311.4" stroke="#0a2cf0" stroke-width="2.6"/>
<line x1="538.7" y1="315.6" x2="542.3" y2="319.9" stroke="#0a2cf0" stroke-width="2.6"/>
<line x1="545.1" y1="319.9" x2="549.3" y2="318.4" stroke="#0a2cf0" stroke-width="2.6"/>
<line x1="553.6" y1="315.6" x2="557.1" y2="312.1" stroke="#0a2cf0" stroke-width="2.6"/>
<line x1="559.9" y1="309.3" x2="563.4" y2="305.7" stroke="#0a2cf0" stroke-width="2.6"/>
<line x1="566.3" y1="301.5" x2="569.8" y2="298" stroke="#0a2cf0" stroke-width="2.6"/>
<text x="0.6" y="487.4" font-family='"Liberation Serif", serif' font-size="18.5" font-weight="bold" text-anchor="start" fill="#000" textLength="19.2" lengthAdjust="spacingAndGlyphs">(c)</text>
<text transform="translate(16,566.1) rotate(-90) scale(1,1)" font-family='"Liberation Sans", sans-serif' font-size="12.7" font-weight="bold" text-anchor="middle">Gas Oil Ratio (m3/m3)</text>
<line x1="43.5" y1="651.4" x2="46" y2="651.4" stroke="#222" stroke-width="1.2" />
<text x="39.8" y="653.0" font-family='"Liberation Sans", sans-serif' font-size="9.6" font-weight="bold" text-anchor="end" fill="#000" >0</text>
<line x1="43.5" y1="622.2" x2="46" y2="622.2" stroke="#222" stroke-width="1.2" />
<text x="39.8" y="629.1999999999999" font-family='"Liberation Sans", sans-serif' font-size="9.6" font-weight="bold" text-anchor="end" fill="#000" >20</text>
<line x1="43.5" y1="594.3" x2="46" y2="594.3" stroke="#222" stroke-width="1.2" />
<text x="39.8" y="600.4" font-family='"Liberation Sans", sans-serif' font-size="9.6" font-weight="bold" text-anchor="end" fill="#000" >40</text>
<line x1="43.5" y1="564.3" x2="46" y2="564.3" stroke="#222" stroke-width="1.2" />
<text x="39.8" y="567.0" font-family='"Liberation Sans", sans-serif' font-size="9.6" font-weight="bold" text-anchor="end" fill="#000" >60</text>
<line x1="43.5" y1="535.6" x2="46" y2="535.6" stroke="#222" stroke-width="1.2" />
<text x="39.8" y="538.5" font-family='"Liberation Sans", sans-serif' font-size="9.6" font-weight="bold" text-anchor="end" fill="#000" >80</text>
<line x1="43.5" y1="506.7" x2="46" y2="506.7" stroke="#222" stroke-width="1.2" />
<text x="39.8" y="510.09999999999997" font-family='"Liberation Sans", sans-serif' font-size="9.6" font-weight="bold" text-anchor="end" fill="#000" >100</text>
<line x1="43.5" y1="477.7" x2="46" y2="477.7" stroke="#222" stroke-width="1.2" />
<text x="39.8" y="481.09999999999997" font-family='"Liberation Sans", sans-serif' font-size="9.6" font-weight="bold" text-anchor="end" fill="#000" >120</text>
<line x1="57.7" y1="651.7" x2="57.7" y2="655.3000000000001" stroke="#222" stroke-width="1.2" />
<text x="59" y="666.6" font-family='"Liberation Sans", sans-serif' font-size="9.6" font-weight="bold" text-anchor="middle" fill="#000" >2000</text>
<line x1="104.7" y1="651.7" x2="104.7" y2="655.3000000000001" stroke="#222" stroke-width="1.2" />
<text x="103.8" y="666.6" font-family='"Liberation Sans", sans-serif' font-size="9.6" font-weight="bold" text-anchor="middle" fill="#000" >2001</text>
<line x1="151.5" y1="651.7" x2="151.5" y2="655.3000000000001" stroke="#222" stroke-width="1.2" />
<text x="150" y="666.6" font-family='"Liberation Sans", sans-serif' font-size="9.6" font-weight="bold" text-anchor="middle" fill="#000" >2002</text>
<line x1="198.3" y1="651.7" x2="198.3" y2="655.3000000000001" stroke="#222" stroke-width="1.2" />
<text x="197.4" y="666.6" font-family='"Liberation Sans", sans-serif' font-size="9.6" font-weight="bold" text-anchor="middle" fill="#000" >2003</text>
<line x1="245" y1="651.7" x2="245" y2="655.3000000000001" stroke="#222" stroke-width="1.2" />
<text x="240.9" y="666.6" font-family='"Liberation Sans", sans-serif' font-size="9.6" font-weight="bold" text-anchor="middle" fill="#000" >2004</text>
<line x1="291.8" y1="651.7" x2="291.8" y2="655.3000000000001" stroke="#222" stroke-width="1.2" />
<text x="288.4" y="666.6" font-family='"Liberation Sans", sans-serif' font-size="9.6" font-weight="bold" text-anchor="middle" fill="#000" >2005</text>
<line x1="339" y1="651.7" x2="339" y2="655.3000000000001" stroke="#222" stroke-width="1.2" />
<text x="336.8" y="666.6" font-family='"Liberation Sans", sans-serif' font-size="9.6" font-weight="bold" text-anchor="middle" fill="#000" >2006</text>
<line x1="385.5" y1="651.7" x2="385.5" y2="655.3000000000001" stroke="#222" stroke-width="1.2" />
<text x="384.2" y="666.6" font-family='"Liberation Sans", sans-serif' font-size="9.6" font-weight="bold" text-anchor="middle" fill="#000" >2007</text>
<line x1="432" y1="651.7" x2="432" y2="655.3000000000001" stroke="#222" stroke-width="1.2" />
<text x="432.3" y="666.6" font-family='"Liberation Sans", sans-serif' font-size="9.6" font-weight="bold" text-anchor="middle" fill="#000" >2008</text>
<line x1="477.4" y1="651.7" x2="477.4" y2="655.3000000000001" stroke="#222" stroke-width="1.2" />
<text x="478" y="666.6" font-family='"Liberation Sans", sans-serif' font-size="9.6" font-weight="bold" text-anchor="middle" fill="#000" >2009</text>
<line x1="524.7" y1="651.7" x2="524.7" y2="655.3000000000001" stroke="#222" stroke-width="1.2" />
<text x="523.4" y="666.6" font-family='"Liberation Sans", sans-serif' font-size="9.6" font-weight="bold" text-anchor="middle" fill="#000" >2010</text>
<line x1="571.9" y1="651.7" x2="571.9" y2="655.3000000000001" stroke="#222" stroke-width="1.2" />
<text x="571.1" y="666.6" font-family='"Liberation Sans", sans-serif' font-size="9.6" font-weight="bold" text-anchor="middle" fill="#000" >2011</text>
<line x1="596" y1="477.0" x2="596" y2="651.7" stroke="#939393" stroke-width="1.25" />
<line x1="46" y1="476.5" x2="46" y2="652.5" stroke="#222" stroke-width="1.4" />
<line x1="45" y1="651.7" x2="596.5" y2="651.7" stroke="#333" stroke-width="1.8" />
<line x1="339.1" y1="468" x2="339.1" y2="651.7" stroke="#000" stroke-width="2.2" stroke-dasharray="4,2.7"/>
<line x1="55.5" y1="476.4" x2="123.4" y2="476.4" stroke="#000" stroke-width="2.5" />
<polygon points="45.5,476.4 59.8,471.59999999999997 59.8,481.2" fill="#000"/>
<line x1="222.8" y1="476.4" x2="331.1" y2="476.4" stroke="#000" stroke-width="2.5" />
<polygon points="339.1,476.4 324.8,471.59999999999997 324.8,481.2" fill="#000"/>
<line x1="347.1" y1="476.4" x2="444.3" y2="476.4" stroke="#000" stroke-width="2.5" />
<polygon points="339.1,476.4 353.40000000000003,471.59999999999997 353.40000000000003,481.2" fill="#000"/>
<line x1="521.5" y1="476.4" x2="590" y2="476.4" stroke="#000" stroke-width="2.5" />
<polygon points="598,476.4 583.7,471.59999999999997 583.7,481.2" fill="#000"/>
<line x1="60.5" y1="478.59999999999997" x2="123.4" y2="478.59999999999997" stroke="#c8c8c8" stroke-width="1.2" />
<line x1="222.8" y1="478.59999999999997" x2="324.6" y2="478.59999999999997" stroke="#c8c8c8" stroke-width="1.2" />
<line x1="353.6" y1="478.59999999999997" x2="444.3" y2="478.59999999999997" stroke="#c8c8c8" stroke-width="1.2" />
<line x1="521.5" y1="478.59999999999997" x2="583" y2="478.59999999999997" stroke="#c8c8c8" stroke-width="1.2" />
<text x="174.5" y="474.1" font-family='"Liberation Sans", sans-serif' font-size="12.6" font-weight="bold" text-anchor="middle" fill="#000" >Model</text>
<text x="174.5" y="488.8" font-family='"Liberation Sans", sans-serif' font-size="12.6" font-weight="bold" text-anchor="middle" fill="#000" >Development</text>
<text x="482" y="482" font-family='"Liberation Sans", sans-serif' font-size="12.7" font-weight="bold" text-anchor="middle" fill="#000" >Prediction</text>
<text x="334" y="686.5" font-family='"Liberation Sans", sans-serif' font-size="12.5" font-weight="bold" text-anchor="middle" fill="#000" >Time (Date)</text>
<circle cx="458.7" cy="551.3" r="3.4" fill="#e00" stroke="#400" stroke-width="0.9"/>
<text x="477.9" y="554.6" font-family='"Liberation Sans", sans-serif' font-size="10.65" font-weight="bold" text-anchor="start" fill="#000" >Observations</text>
<text x="477.9" y="567" font-family='"Liberation Sans", sans-serif' font-size="10.65" font-weight="bold" text-anchor="start" fill="#000" >Best Realization</text>
<line x1="444.6" y1="566.8" x2="476.5" y2="566.8" stroke="#1a4fc0" stroke-width="2" stroke-dasharray="4.5,2.5"/>
<circle cx="60.6" cy="650.2" r="2.85" fill="#f00"/>
<circle cx="65.6" cy="499.3" r="2.85" fill="#f00"/>
<circle cx="69.5" cy="521.5" r="2.85" fill="#f00"/>
<circle cx="73.5" cy="521.5" r="2.85" fill="#f00"/>
<circle cx="77.4" cy="521.5" r="2.85" fill="#f00"/>
<circle cx="81.4" cy="521.5" r="2.85" fill="#f00"/>
<circle cx="85.3" cy="521.5" r="2.85" fill="#f00"/>
<circle cx="89.3" cy="521.5" r="2.85" fill="#f00"/>
<circle cx="93.3" cy="521.5" r="2.85" fill="#f00"/>
<circle cx="97.2" cy="521.5" r="2.85" fill="#f00"/>
<circle cx="101.2" cy="521.5" r="2.85" fill="#f00"/>
<circle cx="105.2" cy="546.1" r="2.85" fill="#f00"/>
<circle cx="108.8" cy="570.7" r="2.85" fill="#f00"/>
<circle cx="112.1" cy="598.7" r="2.85" fill="#f00"/>
<circle cx="115.0" cy="597.6" r="2.85" fill="#f00"/>
<circle cx="118.8" cy="597.6" r="2.85" fill="#f00"/>
<circle cx="122.5" cy="597.6" r="2.85" fill="#f00"/>
<circle cx="126.3" cy="597.6" r="2.85" fill="#f00"/>
<circle cx="130.1" cy="597.6" r="2.85" fill="#f00"/>
<circle cx="133.8" cy="597.6" r="2.85" fill="#f00"/>
<circle cx="137.6" cy="597.6" r="2.85" fill="#f00"/>
<circle cx="139.3" cy="593.2" r="2.85" fill="#f00"/>
<circle cx="142.2" cy="597.6" r="2.85" fill="#f00"/>
<circle cx="146.2" cy="597.6" r="2.85" fill="#f00"/>
<circle cx="150.2" cy="597.6" r="2.85" fill="#f00"/>
<circle cx="154.2" cy="597.6" r="2.85" fill="#f00"/>
<circle cx="158.2" cy="597.6" r="2.85" fill="#f00"/>
<circle cx="162.1" cy="597.6" r="2.85" fill="#f00"/>
<circle cx="166.1" cy="597.6" r="2.85" fill="#f00"/>
<circle cx="170.1" cy="597.6" r="2.85" fill="#f00"/>
<circle cx="174.1" cy="597.6" r="2.85" fill="#f00"/>
<circle cx="178.1" cy="597.6" r="2.85" fill="#f00"/>
<circle cx="182.1" cy="593.2" r="2.85" fill="#f00"/>
<circle cx="180.0" cy="596.0" r="2.85" fill="#f00"/>
<circle cx="186.0" cy="597.3" r="2.85" fill="#f00"/>
<circle cx="190.6" cy="598.6" r="2.85" fill="#f00"/>
<circle cx="194.0" cy="592.9" r="2.85" fill="#f00"/>
<circle cx="197.9" cy="593.3" r="2.85" fill="#f00"/>
<circle cx="201.9" cy="594.6" r="2.85" fill="#f00"/>
<circle cx="205.2" cy="597.3" r="2.85" fill="#f00"/>
<circle cx="209.9" cy="598.0" r="2.85" fill="#f00"/>
<circle cx="212.6" cy="600.6" r="2.85" fill="#f00"/>
<circle cx="216.3" cy="600.6" r="2.85" fill="#f00"/>
<circle cx="220.0" cy="600.6" r="2.85" fill="#f00"/>
<circle cx="223.8" cy="600.6" r="2.85" fill="#f00"/>
<circle cx="227.5" cy="600.6" r="2.85" fill="#f00"/>
<circle cx="231.2" cy="600.6" r="2.85" fill="#f00"/>
<circle cx="234.9" cy="600.6" r="2.85" fill="#f00"/>
<circle cx="238.6" cy="600.6" r="2.85" fill="#f00"/>
<circle cx="242.4" cy="600.6" r="2.85" fill="#f00"/>
<circle cx="246.1" cy="600.6" r="2.85" fill="#f00"/>
<circle cx="249.8" cy="600.6" r="2.85" fill="#f00"/>
<circle cx="250.4" cy="615.9" r="2.85" fill="#f00"/>
<circle cx="254.4" cy="617.0" r="2.85" fill="#f00"/>
<circle cx="258.5" cy="617.0" r="2.85" fill="#f00"/>
<circle cx="262.6" cy="617.0" r="2.85" fill="#f00"/>
<circle cx="266.7" cy="617.0" r="2.85" fill="#f00"/>
<circle cx="270.8" cy="617.0" r="2.85" fill="#f00"/>
<circle cx="274.9" cy="617.0" r="2.85" fill="#f00"/>
<circle cx="278.2" cy="611.6" r="2.85" fill="#f00"/>
<circle cx="281.0" cy="611.6" r="2.85" fill="#f00"/>
<circle cx="285.1" cy="611.6" r="2.85" fill="#f00"/>
<circle cx="289.1" cy="611.6" r="2.85" fill="#f00"/>
<circle cx="293.2" cy="611.6" r="2.85" fill="#f00"/>
<circle cx="296.5" cy="608.6" r="2.85" fill="#f00"/>
<circle cx="300.0" cy="608.3" r="2.85" fill="#f00"/>
<circle cx="303.9" cy="608.3" r="2.85" fill="#f00"/>
<circle cx="307.7" cy="608.3" r="2.85" fill="#f00"/>
<circle cx="311.6" cy="608.3" r="2.85" fill="#f00"/>
<circle cx="315.4" cy="608.3" r="2.85" fill="#f00"/>
<circle cx="319.3" cy="608.3" r="2.85" fill="#f00"/>
<circle cx="323.1" cy="608.3" r="2.85" fill="#f00"/>
<circle cx="327.0" cy="608.3" r="2.85" fill="#f00"/>
<circle cx="330.8" cy="608.3" r="2.85" fill="#f00"/>
<circle cx="334.7" cy="608.3" r="2.85" fill="#f00"/>
<circle cx="337.2" cy="601.8" r="2.85" fill="#f00"/>
<circle cx="340.0" cy="601.2" r="2.85" fill="#f00"/>
<circle cx="343.0" cy="601.2" r="2.85" fill="#f00"/>
<circle cx="346.6" cy="606.6" r="2.85" fill="#f00"/>
<circle cx="349.1" cy="609.6" r="2.85" fill="#f00"/>
<circle cx="352.0" cy="609.0" r="2.85" fill="#f00"/>
<circle cx="355.0" cy="608.3" r="2.85" fill="#f00"/>
<circle cx="358.0" cy="606.0" r="2.85" fill="#f00"/>
<circle cx="360.8" cy="603.3" r="2.85" fill="#f00"/>
<circle cx="364.1" cy="608.3" r="2.85" fill="#f00"/>
<circle cx="369.1" cy="650.4" r="2.85" fill="#f00"/>
<circle cx="371.6" cy="609.4" r="2.85" fill="#f00"/>
<circle cx="375.6" cy="609.4" r="2.85" fill="#f00"/>
<circle cx="379.6" cy="609.4" r="2.85" fill="#f00"/>
<circle cx="383.5" cy="609.4" r="2.85" fill="#f00"/>
<circle cx="387.5" cy="609.4" r="2.85" fill="#f00"/>
<circle cx="391.5" cy="609.4" r="2.85" fill="#f00"/>
<circle cx="394.0" cy="611.0" r="2.85" fill="#f00"/>
<circle cx="396.5" cy="612.4" r="2.85" fill="#f00"/>
<circle cx="400.0" cy="614.0" r="2.85" fill="#f00"/>
<circle cx="403.1" cy="614.9" r="2.85" fill="#f00"/>
<circle cx="406.0" cy="613.0" r="2.85" fill="#f00"/>
<circle cx="408.1" cy="611.6" r="2.85" fill="#f00"/>
<circle cx="410.5" cy="610.0" r="2.85" fill="#f00"/>
<circle cx="413.1" cy="609.1" r="2.85" fill="#f00"/>
<circle cx="416.7" cy="609.1" r="2.85" fill="#f00"/>
<circle cx="420.3" cy="609.1" r="2.85" fill="#f00"/>
<circle cx="423.9" cy="609.1" r="2.85" fill="#f00"/>
<circle cx="427.5" cy="609.1" r="2.85" fill="#f00"/>
<circle cx="431.1" cy="609.1" r="2.85" fill="#f00"/>
<circle cx="434.7" cy="609.1" r="2.85" fill="#f00"/>
<circle cx="438.8" cy="602.6" r="2.85" fill="#f00"/>
<circle cx="440.0" cy="602.4" r="2.85" fill="#f00"/>
<circle cx="443.3" cy="602.4" r="2.85" fill="#f00"/>
<circle cx="446.6" cy="608.3" r="2.85" fill="#f00"/>
<circle cx="449.5" cy="610.2" r="2.85" fill="#f00"/>
<circle cx="453.2" cy="610.2" r="2.85" fill="#f00"/>
<circle cx="457.0" cy="610.2" r="2.85" fill="#f00"/>
<circle cx="460.7" cy="610.2" r="2.85" fill="#f00"/>
<circle cx="464.5" cy="610.2" r="2.85" fill="#f00"/>
<circle cx="468.2" cy="610.2" r="2.85" fill="#f00"/>
<circle cx="469.9" cy="611.6" r="2.85" fill="#f00"/>
<circle cx="472.5" cy="610.5" r="2.85" fill="#f00"/>
<circle cx="474.9" cy="609.9" r="2.85" fill="#f00"/>
<circle cx="478.5" cy="609.5" r="2.85" fill="#f00"/>
<circle cx="483.2" cy="609.1" r="2.85" fill="#f00"/>
<circle cx="493.1" cy="608.7" r="2.85" fill="#f00"/>
<circle cx="497.3" cy="608.7" r="2.85" fill="#f00"/>
<circle cx="501.4" cy="608.7" r="2.85" fill="#f00"/>
<circle cx="505.6" cy="608.7" r="2.85" fill="#f00"/>
<circle cx="486.5" cy="628.2" r="2.85" fill="#f00"/>
<circle cx="489.8" cy="627.4" r="2.85" fill="#f00"/>
<circle cx="430.0" cy="608.3" r="2.85" fill="#f00"/>
<circle cx="435.0" cy="609.1" r="2.85" fill="#f00"/>
<polyline points="46.5,651.0 62.3,651.0 62.3,604.9 364.9,604.9 364.9,650.6 369.1,650.6 369.1,604.9 504.8,604.9" fill="none" stroke="#0010ff" stroke-width="2.3" stroke-linejoin="round" />
<line x1="509.8" y1="604.9" x2="514.1" y2="604.9" stroke="#0a2cf0" stroke-width="2.6"/>
<line x1="519" y1="604.9" x2="523.2" y2="604.9" stroke="#0a2cf0" stroke-width="2.6"/>
<line x1="528.2" y1="604.9" x2="532.4" y2="604.9" stroke="#0a2cf0" stroke-width="2.6"/>
<line x1="537.7" y1="604.9" x2="541.9" y2="604.9" stroke="#0a2cf0" stroke-width="2.6"/>
<line x1="547" y1="604.9" x2="551.2" y2="604.9" stroke="#0a2cf0" stroke-width="2.6"/>
<line x1="556" y1="604.9" x2="561.4" y2="604.9" stroke="#0a2cf0" stroke-width="2.6"/>
<line x1="566.3" y1="604.9" x2="571" y2="604.9" stroke="#0a2cf0" stroke-width="2.6"/>
<text x="0.6" y="686.3" font-family='"Liberation Serif", serif' font-size="18.5" font-weight="bold" text-anchor="start" fill="#000" textLength="21.2" lengthAdjust="spacingAndGlyphs">(d)</text>
<text transform="translate(21.5,800) rotate(-90) scale(1,1)" font-family='"Liberation Sans", sans-serif' font-size="12.2" font-weight="bold" text-anchor="middle">Bottom Hole Flowing Press (kg/cm<tspan font-size="8" dy="-5">2</tspan><tspan dy="5">)</tspan></text>
<line x1="49.4" y1="883.3" x2="51.9" y2="883.3" stroke="#222" stroke-width="1.2" />
<text x="44.2" y="884.6" font-family='"Liberation Sans", sans-serif' font-size="9.6" font-weight="bold" text-anchor="end" fill="#000" >90</text>
<line x1="49.4" y1="855.9" x2="51.9" y2="855.9" stroke="#222" stroke-width="1.2" />
<text x="44.2" y="861.4" font-family='"Liberation Sans", sans-serif' font-size="9.6" font-weight="bold" text-anchor="end" fill="#000" >100</text>
<line x1="49.4" y1="827.2" x2="51.9" y2="827.2" stroke="#222" stroke-width="1.2" />
<text x="44.2" y="833.6999999999999" font-family='"Liberation Sans", sans-serif' font-size="9.6" font-weight="bold" text-anchor="end" fill="#000" >110</text>
<line x1="49.4" y1="798.1" x2="51.9" y2="798.1" stroke="#222" stroke-width="1.2" />
<text x="44.2" y="800.9" font-family='"Liberation Sans", sans-serif' font-size="9.6" font-weight="bold" text-anchor="end" fill="#000" >120</text>
<line x1="49.4" y1="770.3" x2="51.9" y2="770.3" stroke="#222" stroke-width="1.2" />
<text x="44.2" y="773.5" font-family='"Liberation Sans", sans-serif' font-size="9.6" font-weight="bold" text-anchor="end" fill="#000" >130</text>
<line x1="49.4" y1="741.3" x2="51.9" y2="741.3" stroke="#222" stroke-width="1.2" />
<text x="44.2" y="745.1" font-family='"Liberation Sans", sans-serif' font-size="9.6" font-weight="bold" text-anchor="end" fill="#000" >140</text>
<line x1="49.4" y1="714.3" x2="51.9" y2="714.3" stroke="#222" stroke-width="1.2" />
<text x="44.2" y="717.6999999999999" font-family='"Liberation Sans", sans-serif' font-size="9.6" font-weight="bold" text-anchor="end" fill="#000" >150</text>
<line x1="63.6" y1="883.3" x2="63.6" y2="886.9" stroke="#222" stroke-width="1.2" />
<text x="67.8" y="897.3" font-family='"Liberation Sans", sans-serif' font-size="9.6" font-weight="bold" text-anchor="middle" fill="#000" >2000</text>
<line x1="110.23" y1="883.3" x2="110.23" y2="886.9" stroke="#222" stroke-width="1.2" />
<text x="112.3" y="897.3" font-family='"Liberation Sans", sans-serif' font-size="9.6" font-weight="bold" text-anchor="middle" fill="#000" >2001</text>
<line x1="156.86" y1="883.3" x2="156.86" y2="886.9" stroke="#222" stroke-width="1.2" />
<text x="157.5" y="897.3" font-family='"Liberation Sans", sans-serif' font-size="9.6" font-weight="bold" text-anchor="middle" fill="#000" >2002</text>
<line x1="203.49" y1="883.3" x2="203.49" y2="886.9" stroke="#222" stroke-width="1.2" />
<text x="204.7" y="897.3" font-family='"Liberation Sans", sans-serif' font-size="9.6" font-weight="bold" text-anchor="middle" fill="#000" >2003</text>
<line x1="250.12" y1="883.3" x2="250.12" y2="886.9" stroke="#222" stroke-width="1.2" />
<text x="247.6" y="897.3" font-family='"Liberation Sans", sans-serif' font-size="9.6" font-weight="bold" text-anchor="middle" fill="#000" >2004</text>
<line x1="296.75" y1="883.3" x2="296.75" y2="886.9" stroke="#222" stroke-width="1.2" />
<text x="294.7" y="897.3" font-family='"Liberation Sans", sans-serif' font-size="9.6" font-weight="bold" text-anchor="middle" fill="#000" >2005</text>
<line x1="343.38000000000005" y1="883.3" x2="343.38000000000005" y2="886.9" stroke="#222" stroke-width="1.2" />
<text x="341.8" y="897.3" font-family='"Liberation Sans", sans-serif' font-size="9.6" font-weight="bold" text-anchor="middle" fill="#000" >2006</text>
<line x1="390.01000000000005" y1="883.3" x2="390.01000000000005" y2="886.9" stroke="#222" stroke-width="1.2" />
<text x="389" y="897.3" font-family='"Liberation Sans", sans-serif' font-size="9.6" font-weight="bold" text-anchor="middle" fill="#000" >2007</text>
<line x1="436.64000000000004" y1="883.3" x2="436.64000000000004" y2="886.9" stroke="#222" stroke-width="1.2" />
<text x="436.5" y="897.3" font-family='"Liberation Sans", sans-serif' font-size="9.6" font-weight="bold" text-anchor="middle" fill="#000" >2008</text>
<line x1="483.27000000000004" y1="883.3" x2="483.27000000000004" y2="886.9" stroke="#222" stroke-width="1.2" />
<text x="480.9" y="897.3" font-family='"Liberation Sans", sans-serif' font-size="9.6" font-weight="bold" text-anchor="middle" fill="#000" >2009</text>
<line x1="529.9" y1="883.3" x2="529.9" y2="886.9" stroke="#222" stroke-width="1.2" />
<text x="526.4" y="897.3" font-family='"Liberation Sans", sans-serif' font-size="9.6" font-weight="bold" text-anchor="middle" fill="#000" >2010</text>
<line x1="576.5300000000001" y1="883.3" x2="576.5300000000001" y2="886.9" stroke="#222" stroke-width="1.2" />
<text x="573.1" y="897.3" font-family='"Liberation Sans", sans-serif' font-size="9.6" font-weight="bold" text-anchor="middle" fill="#000" >2011</text>
<line x1="599.3" y1="714.0" x2="599.3" y2="883.3" stroke="#939393" stroke-width="1.25" />
<line x1="51.9" y1="713.5" x2="51.9" y2="884.0999999999999" stroke="#222" stroke-width="1.4" />
<line x1="50.9" y1="883.3" x2="599.8" y2="883.3" stroke="#333" stroke-width="1.8" />
<line x1="343.9" y1="705" x2="343.9" y2="883.3" stroke="#000" stroke-width="2.2" stroke-dasharray="4,2.7"/>
<line x1="63.3" y1="713.5" x2="130.6" y2="713.5" stroke="#000" stroke-width="2.2" />
<polygon points="53.3,713.5 68.8,708.9 68.8,718.1" fill="#000"/>
<line x1="229.4" y1="713.5" x2="335.9" y2="713.5" stroke="#000" stroke-width="2.2" />
<polygon points="343.9,713.5 329.59999999999997,708.9 329.59999999999997,718.1" fill="#000"/>
<line x1="351.9" y1="713.5" x2="446" y2="713.5" stroke="#000" stroke-width="2.2" />
<polygon points="343.9,713.5 358.2,708.9 358.2,718.1" fill="#000"/>
<line x1="532.6" y1="714.8" x2="591.1" y2="714.8" stroke="#000" stroke-width="2.0" />
<polygon points="599.1,714.8 583.5,710.1999999999999 583.5,719.4" fill="#000"/>
<line x1="446" y1="714.3" x2="453.5" y2="714.3" stroke="#8a8a8a" stroke-width="1" />
<line x1="525.3" y1="714.8" x2="532.6" y2="714.8" stroke="#8a8a8a" stroke-width="1" />
<text x="180.9" y="707.8" font-family='"Liberation Sans", sans-serif' font-size="12.4" font-weight="bold" text-anchor="middle" fill="#000" >Model</text>
<text x="180.9" y="721.9" font-family='"Liberation Sans", sans-serif' font-size="12.4" font-weight="bold" text-anchor="middle" fill="#000" >Development</text>
<text x="488.5" y="715.6" font-family='"Liberation Sans", sans-serif' font-size="12.5" font-weight="bold" text-anchor="middle" fill="#000" >Prediction</text>
<text x="339.1" y="914.3" font-family='"Liberation Sans", sans-serif' font-size="12.5" font-weight="bold" text-anchor="middle" fill="#000" >Time (Date)</text>
<circle cx="463.8" cy="856" r="3.4" fill="#e00" stroke="#400" stroke-width="0.9"/>
<text x="482.5" y="858.2" font-family='"Liberation Sans", sans-serif' font-size="10.4" font-weight="bold" text-anchor="start" fill="#000" >Observations</text>
<text x="482.5" y="870.3" font-family='"Liberation Sans", sans-serif' font-size="10.4" font-weight="bold" text-anchor="start" fill="#000" >Best Realization</text>
<line x1="449.7" y1="870.8" x2="481.5" y2="870.8" stroke="#1a4fc0" stroke-width="2" stroke-dasharray="4.5,2.5"/>
<circle cx="69.9" cy="725.0" r="3.0" fill="#f00"/>
<circle cx="69.7" cy="731.6" r="3.0" fill="#f00"/>
<circle cx="81.9" cy="736.9" r="3.0" fill="#f00"/>
<circle cx="90.5" cy="736.3" r="3.0" fill="#f00"/>
<circle cx="110.5" cy="738.3" r="3.0" fill="#f00"/>
<circle cx="117.8" cy="735.0" r="3.0" fill="#f00"/>
<circle cx="120.4" cy="738.9" r="3.0" fill="#f00"/>
<circle cx="70.2" cy="769.5" r="3.0" fill="#f00"/>
<circle cx="144.7" cy="735.7" r="3.0" fill="#f00"/>
<circle cx="164.5" cy="734.0" r="3.0" fill="#f00"/>
<circle cx="185.5" cy="739.3" r="3.0" fill="#f00"/>
<circle cx="192.1" cy="737.3" r="3.0" fill="#f00"/>
<circle cx="201.0" cy="749.2" r="3.0" fill="#f00"/>
<circle cx="185.5" cy="762.5" r="3.0" fill="#f00"/>
<circle cx="201.3" cy="749.2" r="3.0" fill="#f00"/>
<circle cx="208.6" cy="758.5" r="3.0" fill="#f00"/>
<circle cx="212.0" cy="734.6" r="3.0" fill="#f00"/>
<circle cx="211.3" cy="743.9" r="3.0" fill="#f00"/>
<circle cx="208.6" cy="737.9" r="3.0" fill="#f00"/>
<circle cx="221.3" cy="747.9" r="3.0" fill="#f00"/>
<circle cx="224.6" cy="743.3" r="3.0" fill="#f00"/>
<circle cx="228.6" cy="743.9" r="3.0" fill="#f00"/>
<circle cx="253.8" cy="739.3" r="3.0" fill="#f00"/>
<circle cx="249.8" cy="746.6" r="3.0" fill="#f00"/>
<circle cx="253.2" cy="749.9" r="3.0" fill="#f00"/>
<circle cx="264.5" cy="751.9" r="3.0" fill="#f00"/>
<circle cx="265.1" cy="753.9" r="3.0" fill="#f00"/>
<circle cx="273.1" cy="757.9" r="3.0" fill="#f00"/>
<circle cx="274.4" cy="748.6" r="3.0" fill="#f00"/>
<circle cx="279.7" cy="766.5" r="3.0" fill="#f00"/>
<circle cx="273.3" cy="758.5" r="3.0" fill="#f00"/>
<circle cx="274.7" cy="748.6" r="3.0" fill="#f00"/>
<circle cx="280.0" cy="750.6" r="3.0" fill="#f00"/>
<circle cx="281.7" cy="766.5" r="3.0" fill="#f00"/>
<circle cx="284.0" cy="745.9" r="3.0" fill="#f00"/>
<circle cx="294.6" cy="745.9" r="3.0" fill="#f00"/>
<circle cx="297.2" cy="753.2" r="3.0" fill="#f00"/>
<circle cx="304.8" cy="753.2" r="3.0" fill="#f00"/>
<circle cx="312.5" cy="752.6" r="3.0" fill="#f00"/>
<circle cx="314.5" cy="757.9" r="3.0" fill="#f00"/>
<circle cx="314.5" cy="763.9" r="3.0" fill="#f00"/>
<circle cx="321.8" cy="752.6" r="3.0" fill="#f00"/>
<circle cx="326.5" cy="745.9" r="3.0" fill="#f00"/>
<circle cx="329.1" cy="755.2" r="3.0" fill="#f00"/>
<circle cx="341.1" cy="745.9" r="3.0" fill="#f00"/>
<circle cx="341.1" cy="754.6" r="3.0" fill="#f00"/>
<circle cx="341.1" cy="763.2" r="3.0" fill="#f00"/>
<circle cx="348.4" cy="745.9" r="3.0" fill="#f00"/>
<circle cx="277.2" cy="815.2" r="3.0" fill="#f00"/>
<circle cx="342.0" cy="747.2" r="3.0" fill="#f00"/>
<circle cx="342.0" cy="753.9" r="3.0" fill="#f00"/>
<circle cx="342.0" cy="763.2" r="3.0" fill="#f00"/>
<circle cx="348.6" cy="745.9" r="3.0" fill="#f00"/>
<circle cx="375.6" cy="752.5" r="3.0" fill="#f00"/>
<circle cx="395.1" cy="753.9" r="3.0" fill="#f00"/>
<circle cx="399.8" cy="753.2" r="3.0" fill="#f00"/>
<circle cx="412.8" cy="748.5" r="3.0" fill="#f00"/>
<circle cx="417.7" cy="747.9" r="3.0" fill="#f00"/>
<circle cx="413.3" cy="748.6" r="3.0" fill="#f00"/>
<circle cx="418.0" cy="747.9" r="3.0" fill="#f00"/>
<circle cx="445.6" cy="735.7" r="3.0" fill="#f00"/>
<circle cx="455.8" cy="765.2" r="3.0" fill="#f00"/>
<circle cx="453.9" cy="765.8" r="3.0" fill="#f00"/>
<circle cx="477.8" cy="753.2" r="3.0" fill="#f00"/>
<circle cx="479.1" cy="752.6" r="3.0" fill="#f00"/>
<circle cx="486.4" cy="765.2" r="3.0" fill="#f00"/>
<circle cx="480.0" cy="752.6" r="3.0" fill="#f00"/>
<circle cx="486.6" cy="765.2" r="3.0" fill="#f00"/>
<circle cx="509.5" cy="757.9" r="3.0" fill="#f00"/>
<polyline points="51.3,729.0 67.3,729.0 72.6,730.3 80.6,732.0 93.9,732.3 105.8,732.3 113.8,734.9 120.4,736.3 129.7,736.0 138.3,736.2 148.9,737.0 164.9,736.2 171.5,737.3 178.2,737.9 184.8,737.9 194.1,739.9 204.7,740.6 208.0,740.2 216.0,740.6 219.9,739.7 234.6,739.9 243.9,741.3 250.5,742.6 255.8,745.2 261.1,747.2 269.1,747.2 279.7,746.6 283.3,747.2 289.9,748.2 303.2,748.6 315.2,748.2 319.2,750.3 323.8,747.9 331.1,748.2 339.1,747.2 346.6,748.5 353.3,749.6 359.9,749.2 362.6,748.1 369.9,748.5 373.2,741.9 379.9,746.5 386.5,750.5 391.2,749.9 393.2,748.5 398.5,751.9 403.8,753.2 411.8,753.9 414.4,750.5 416.0,748.6 420.0,750.6 424.0,753.9 427.9,751.9 433.3,753.9 439.2,755.6 443.2,754.3 448.5,754.8 453.9,756.9 463.2,758.5 472.5,759.9 481.8,760.5 485.3,761.9 490.6,765.2 496.0,767.9 501.3,769.2 506.6,769.6" fill="none" stroke="#0010ff" stroke-width="3.0" stroke-linejoin="round" />
<line x1="509" y1="774.4" x2="512.6" y2="769.8" stroke="#0a2cf0" stroke-width="3.0"/>
<line x1="516" y1="764.6" x2="521.3" y2="762.6" stroke="#0a2cf0" stroke-width="3.0"/>
<line x1="527.2" y1="762" x2="531.9" y2="762" stroke="#0a2cf0" stroke-width="3.0"/>
<line x1="538.5" y1="762" x2="543.2" y2="762" stroke="#0a2cf0" stroke-width="3.0"/>
<line x1="550.2" y1="762" x2="554.9" y2="762" stroke="#0a2cf0" stroke-width="3.0"/>
<line x1="561.8" y1="762" x2="566.4" y2="762" stroke="#0a2cf0" stroke-width="3.0"/>
<line x1="573.1" y1="762" x2="575.5" y2="762" stroke="#0a2cf0" stroke-width="3.0"/>
</svg>
</body></html>
